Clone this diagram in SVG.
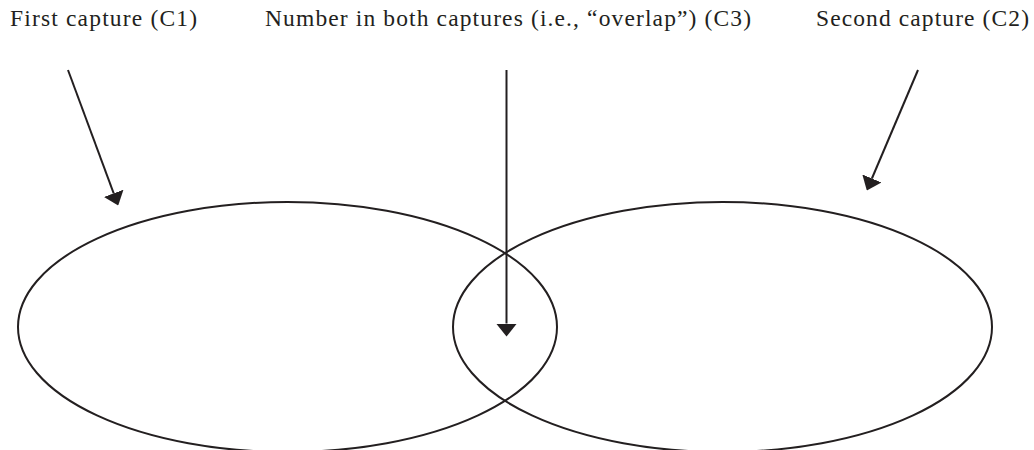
<svg xmlns="http://www.w3.org/2000/svg" width="1034" height="450" viewBox="0 0 1034 450">
<style>
.lbl{font-family:"Liberation Serif","Times New Roman",serif;font-size:23.5px;fill:#231f20}
.ell{fill:none;stroke:#231f20;stroke-width:2}
.arr{stroke:#231f20;stroke-width:2;fill:none}
</style>
<defs>
<marker id="ah" markerUnits="userSpaceOnUse" markerWidth="13" markerHeight="21" viewBox="0 0 12.5 20" refX="0" refY="10" orient="auto">
<path d="M0,0 L12.5,10 L0,20 Z" fill="#231f20"/>
</marker>
</defs>
<rect width="1034" height="450" fill="#ffffff"/>
<g id="c1">
<ellipse class="ell" cx="287.5" cy="327" rx="269.5" ry="125"/>
<text class="lbl" x="10" y="26" textLength="187" lengthAdjust="spacing">First capture (C1)</text>
</g>
<g id="c2">
<ellipse class="ell" cx="722.5" cy="327" rx="269.5" ry="125"/>
<text class="lbl" x="816" y="26" textLength="213" lengthAdjust="spacing">Second capture (C2)</text>
</g>
<g id="c3">
<text class="lbl" x="265" y="26" textLength="486" lengthAdjust="spacing">Number in both captures (i.e., “overlap”) (C3)</text>
</g>
<g id="connectors">
<line class="arr" x1="68" y1="70" x2="113.7" y2="193.3" marker-end="url(#ah)"/>
<line class="arr" x1="506.5" y1="70" x2="506.5" y2="323.5" marker-end="url(#ah)"/>
<line class="arr" x1="918" y1="70" x2="871.9" y2="178.5" marker-end="url(#ah)"/>
</g>
</svg>
